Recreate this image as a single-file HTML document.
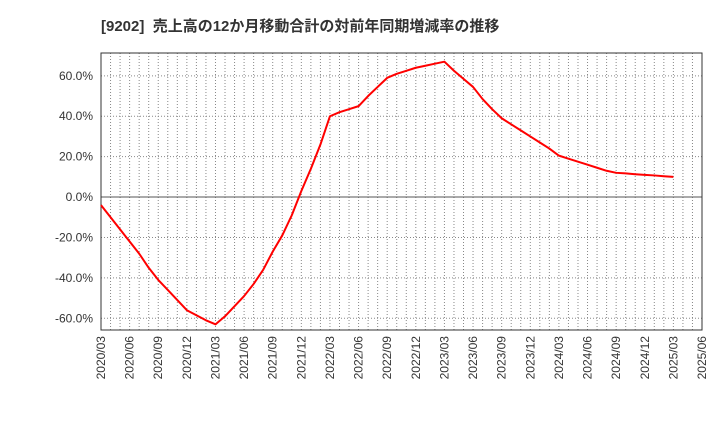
<!DOCTYPE html>
<html><head><meta charset="utf-8"><style>
body{margin:0;background:#fff;font-family:"Liberation Sans","Noto Sans CJK JP",sans-serif;}
</style></head><body>
<svg id="c" width="720" height="440" xmlns="http://www.w3.org/2000/svg">
<text x="101" y="31" font-size="15" font-weight="bold" fill="#333" font-family="Liberation Sans, Noto Sans CJK JP, sans-serif">[9202]&#160;&#160;売上高の12か月移動合計の対前年同期増減率の推移</text>
</svg>
<script>
const yTicks=[60,40,20,0,-20,-40,-60];
const xLabels=["2020/03","2020/06","2020/09","2020/12","2021/03","2021/06","2021/09","2021/12","2022/03","2022/06","2022/09","2022/12","2023/03","2023/06","2023/09","2023/12","2024/03","2024/06","2024/09","2024/12","2025/03","2025/06"];
const values=[-4,-10,-16,-22,-28,-35,-41,-46,-51,-56,-58.5,-61,-63,-59,-54,-49,-43,-36,-27,-19,-9,3,14,26,40,42,43.5,45,50,54.5,59,61,62.5,64,65,66,67,62.5,58.5,54.5,48.5,43.5,39,36,33,30,27,24,20.5,19,17.5,16,14.5,13,12,11.7,11.3,11,10.7,10.3,10];
const L=101,R=702,T=53,B=330,vmax=71.3,vmin=-65.8,nMonths=63;
const x=i=>L+(R-L)*i/nMonths;
const y=v=>T+(B-T)*(vmax-v)/(vmax-vmin);
const s=document.getElementById('c');const NS="http://www.w3.org/2000/svg";
function mk(t,a){const e=document.createElementNS(NS,t);for(const k in a)e.setAttribute(k,a[k]);s.appendChild(e);return e;}
for(let i=1;i<nMonths;i++){const g=mk('line',{x1:x(i),x2:x(i),y1:T,y2:B,stroke:'#888','stroke-dasharray':'1,2','stroke-width':1});

}
yTicks.forEach(v=>{const g=mk('line',{x1:L,x2:R,y1:y(v),y2:y(v),stroke:v===0?'#555':'#888','stroke-dasharray':v===0?'':'1,2','stroke-width':1});


const t=mk('text',{x:L-8,y:y(v)+4,'text-anchor':'end','font-size':12,fill:'#333'});t.textContent=v.toFixed(1)+'%';

});
xLabels.forEach((lb,i)=>{const xx=x(i*3);const t=mk('text',{x:0,y:0,'text-anchor':'end','font-size':12,fill:'#333',transform:`translate(${xx+4},${B+6}) rotate(-90)`});t.textContent=lb;

});
const fr=mk('rect',{x:L,y:T,width:R-L,height:B-T,fill:'none',stroke:'#333','stroke-width':1});


const p=mk('polyline',{points:values.map((v,i)=>x(i)+','+y(v)).join(' '),fill:'none',stroke:'#f00','stroke-width':2,'stroke-linejoin':'round'});


</script>
</body></html>
